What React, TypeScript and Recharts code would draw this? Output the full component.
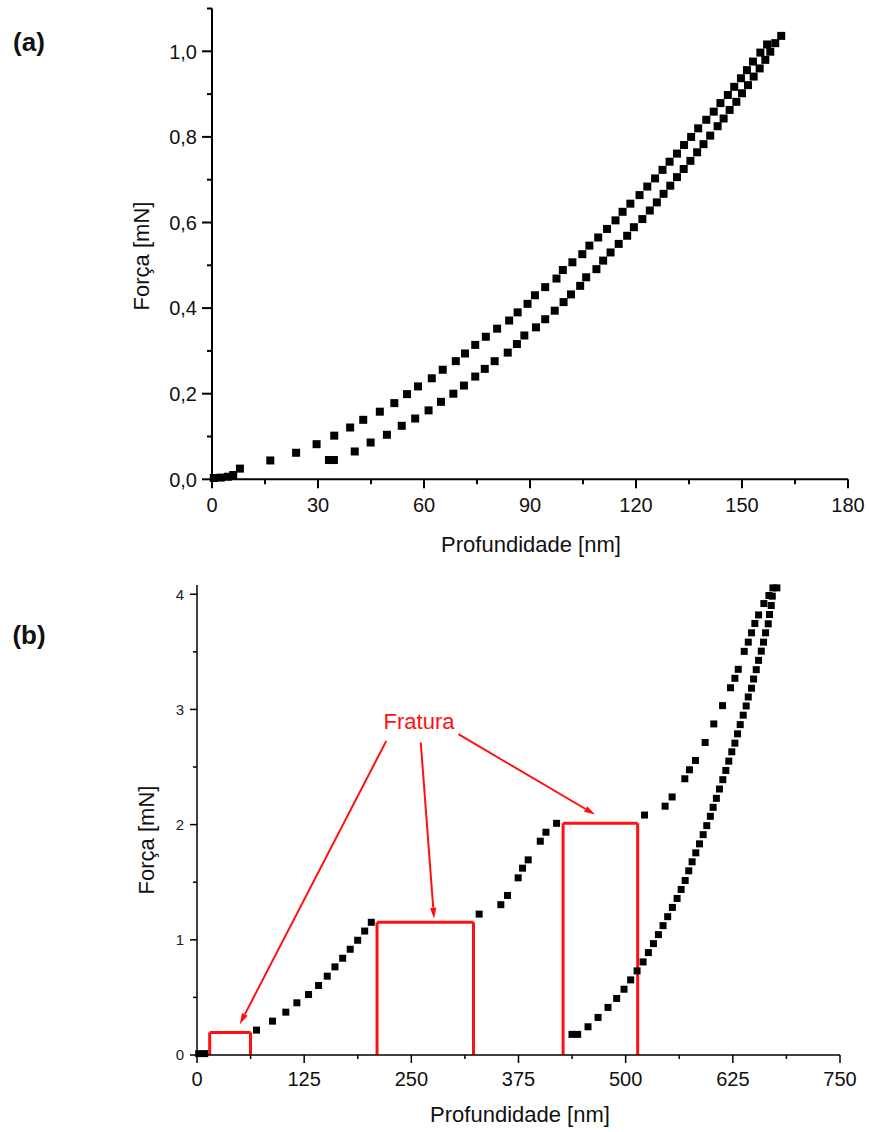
import React from "react"
import { ScatterChart, Scatter, XAxis, YAxis, ReferenceLine, ReferenceDot } from "recharts"

type Pt = [number, number]

// (a) profundidade [nm], força [mN]
const loadA: Pt[] = [
  [0.5, 0.003], [2.5, 0.004], [4.5, 0.006], [6, 0.01], [7.9, 0.025], [16.5, 0.044], [23.8, 0.062],
  [29.6, 0.082], [34.6, 0.102], [39.1, 0.121], [42.8, 0.139], [47.5, 0.158], [51.6, 0.178], [55.2, 0.199],
  [58.3, 0.217], [62.2, 0.236], [65.3, 0.256], [69.0, 0.276], [71.6, 0.294], [74.5, 0.314], [77.5, 0.333],
  [80.7, 0.352], [84.1, 0.371], [86.5, 0.39], [89.3, 0.41], [91.4, 0.43], [94.3, 0.449], [97.5, 0.469],
  [99.3, 0.489], [102.0, 0.507], [104.8, 0.526], [106.8, 0.546], [109.3, 0.565], [111.8, 0.585],
  [114.2, 0.605], [116.2, 0.625], [118.4, 0.644], [121.0, 0.664], [123.2, 0.684], [125.4, 0.703],
  [127.5, 0.723], [129.5, 0.742], [131.6, 0.761], [133.6, 0.781], [135.6, 0.8], [137.6, 0.82],
  [139.9, 0.84], [142.0, 0.859], [143.9, 0.879], [146.0, 0.898], [147.8, 0.917], [149.7, 0.937],
  [151.4, 0.956], [153.1, 0.976], [155.2, 0.997], [157.1, 1.016], [161.1, 1.036],
]

const unloadA: Pt[] = [
  [33.1, 0.045], [34.5, 0.045], [40.4, 0.065], [44.9, 0.086], [49.5, 0.104], [53.7, 0.125], [57.5, 0.142],
  [61.3, 0.161], [64.8, 0.181], [68.3, 0.2], [71.3, 0.219], [74.5, 0.24], [77.2, 0.258], [80.0, 0.276],
  [83.7, 0.296], [86.3, 0.316], [88.4, 0.336], [91.7, 0.355], [94.3, 0.374], [97.0, 0.394], [99.5, 0.414],
  [101.6, 0.432], [104.2, 0.452], [105.9, 0.472], [108.8, 0.491], [110.7, 0.511], [112.8, 0.53],
  [115.1, 0.55], [117.5, 0.569], [119.4, 0.589], [121.8, 0.608], [123.9, 0.628], [125.9, 0.647],
  [127.8, 0.667], [129.7, 0.686], [131.6, 0.706], [133.5, 0.725], [135.4, 0.744], [137.3, 0.764],
  [139.1, 0.783], [141.0, 0.803], [143.1, 0.825], [144.8, 0.843], [146.5, 0.863], [148.4, 0.882],
  [150.0, 0.902], [151.7, 0.921], [153.3, 0.941], [155.0, 0.96], [156.6, 0.98], [158.0, 0.999],
  [159.4, 1.019],
]

// (b)
const loadB: Pt[] = [
  [2, 0.012], [9, 0.012],
  [69.4, 0.216], [88.1, 0.294], [103.6, 0.372], [116.5, 0.453], [130.1, 0.525], [141.8, 0.603],
  [151.9, 0.684], [160.9, 0.765], [169.9, 0.84], [178.7, 0.918], [187.4, 0.996], [195.6, 1.076],
  [203.3, 1.152],
  [329.1, 1.223], [354.4, 1.305], [362.2, 1.385], [374.6, 1.538], [379.7, 1.622], [386.3, 1.694],
  [400.4, 1.856], [407.0, 1.934], [419.4, 2.011],
  [522.0, 2.083], [546.0, 2.16], [554.2, 2.24], [569.0, 2.398], [574.4, 2.476], [581.4, 2.557],
  [592.7, 2.713], [602.8, 2.874], [613.0, 3.033], [622.3, 3.188], [627.4, 3.27], [631.3, 3.348],
  [638.3, 3.504], [643.0, 3.584], [646.8, 3.665], [650.7, 3.746], [655.0, 3.82], [661.2, 3.919],
  [667.1, 3.989], [671.8, 4.055], [676.4, 4.055],
]

const unloadB: Pt[] = [
  [437.4, 0.179], [444.0, 0.179], [456.1, 0.245], [467.8, 0.326], [479.4, 0.413], [489.5, 0.491],
  [498.1, 0.571], [505.8, 0.652], [513.3, 0.73], [520.3, 0.808], [526.5, 0.889], [532.4, 0.967],
  [538.2, 1.045], [543.6, 1.123], [549.0, 1.201], [554.5, 1.281], [560.0, 1.359], [564.7, 1.437],
  [569.4, 1.515], [573.6, 1.599], [577.5, 1.677], [581.8, 1.755], [586.1, 1.833], [590.4, 1.913],
  [594.6, 1.991], [598.8, 2.072], [602.0, 2.15], [605.8, 2.228], [609.4, 2.309], [613.3, 2.39],
  [616.8, 2.47], [620.3, 2.551], [623.8, 2.632], [627.4, 2.707], [630.5, 2.788], [633.6, 2.868],
  [637.1, 2.95], [640.6, 3.03], [643.0, 3.108], [646.8, 3.184], [649.2, 3.264], [652.3, 3.345],
  [655.0, 3.426], [658.2, 3.506], [660.8, 3.584], [663.2, 3.665], [666.3, 3.743], [667.8, 3.824],
  [669.8, 3.902], [671.0, 3.983],
]

const ticksXA = [0, 15, 30, 45, 60, 75, 90, 105, 120, 135, 150, 165, 180]
const ticksYA = [0, 0.1, 0.2, 0.3, 0.4, 0.5, 0.6, 0.7, 0.8, 0.9, 1.0, 1.1]
const ticksXB = [0, 62.5, 125, 187.5, 250, 312.5, 375, 437.5, 500, 562.5, 625, 687.5, 750]
const ticksYB = [0, 0.5, 1, 1.5, 2, 2.5, 3, 3.5, 4]

// regiões de fratura (pop-in): início, fim, força
const fractures = [
  { from: 14.8, to: 62.4, force: 0.196 },
  { from: 210, to: 322.5, force: 1.152 },
  { from: 427, to: 514, force: 2.011 },
]

const arrows = [
  { start: [220.8, 2.727], end: [49.9, 0.268] },
  { start: [261, 2.713], end: [276.5, 1.184] },
  { start: [304.9, 2.785], end: [464.3, 2.087] },
]

const FONT = "'Liberation Sans', Arial, sans-serif"
const RED = "#ff1010"

const toRows = (pts: Pt[]) => pts.map(([d, f]) => ({ d, f }))

const square = (s: number) => (props: any) => (
  <rect x={props.cx - s / 2} y={props.cy - s / 2} width={s} height={s} fill="#000" />
)

const makeXTick = (isMajor: (v: number) => boolean, fmt: (v: number) => string, fs: number, dy: number, major: number, minor: number, sw: number) =>
  (props: any) => {
    const { x, y, payload } = props
    const m = isMajor(payload.value)
    return (
      <g>
        <line x1={x} x2={x} y1={y} y2={y + (m ? major : minor)} stroke="#000" strokeWidth={sw} />
        {m && (
          <text x={x} y={y + dy} textAnchor="middle" fontSize={fs} fontFamily={FONT} fill="#111">
            {fmt(payload.value)}
          </text>
        )}
      </g>
    )
  }

const makeYTick = (isMajor: (v: number) => boolean, fmt: (v: number) => string, fs: number, gap: number, major: number, minor: number, sw: number, color: string) =>
  (props: any) => {
    const { x, y, payload } = props
    const m = isMajor(payload.value)
    return (
      <g>
        <line x1={x} x2={x - (m ? major : minor)} y1={y} y2={y} stroke="#000" strokeWidth={sw} />
        {m && (
          <text x={x - gap} y={y} dy="0.36em" textAnchor="end" fontSize={fs} fontFamily={FONT} fill={color}>
            {fmt(payload.value)}
          </text>
        )}
      </g>
    )
  }

const arrowShape = (p: any) => {
  const { x1, y1, x2, y2 } = p
  const a = Math.atan2(y2 - y1, x2 - x1)
  const len = 11
  const w = 3.2
  const bx = x2 - len * Math.cos(a)
  const by = y2 - len * Math.sin(a)
  const px = -Math.sin(a) * w
  const py = Math.cos(a) * w
  return (
    <g>
      <line x1={x1} y1={y1} x2={bx} y2={by} stroke={RED} strokeWidth={2} />
      <polygon points={`${x2},${y2} ${bx + px},${by + py} ${bx - px},${by - py}`} fill={RED} />
    </g>
  )
}

const titleStyle: React.CSSProperties = {
  position: "absolute",
  fontFamily: FONT,
  fontSize: 22,
  color: "#111",
  whiteSpace: "nowrap",
  transform: "translate(-50%, -50%)",
}

export default function App() {
  return (
    <div style={{ position: "absolute", left: 0, top: 0, width: 869, height: 1132, background: "#fff", fontFamily: FONT }}>
      <div style={{ ...titleStyle, left: 29, top: 42, fontWeight: "bold", fontSize: 26 }}>(a)</div>
      <div style={{ ...titleStyle, left: 29, top: 635, fontWeight: "bold", fontSize: 26 }}>(b)</div>

      <div style={{ position: "absolute", left: 0, top: 0 }}>
        <ScatterChart width={869} height={560} margin={{ top: 8.5, right: 21, bottom: 40.7, left: 152 }}>
          <XAxis
            type="number"
            dataKey="d"
            domain={[0, 180]}
            ticks={ticksXA}
            interval={0}
            height={40}
            tickSize={0}
            tickMargin={0}
            tickLine={false}
            axisLine={{ stroke: "#000", strokeWidth: 2 }}
            tick={makeXTick((v) => v % 30 === 0, (v) => String(v), 20, 33, 9, 5, 2)}
          />
          <YAxis
            type="number"
            dataKey="f"
            domain={[0, 1.1]}
            ticks={ticksYA}
            interval={0}
            width={60}
            tickSize={0}
            tickMargin={0}
            tickLine={false}
            axisLine={{ stroke: "#000", strokeWidth: 2 }}
            tick={makeYTick((v) => Math.round(v * 10) % 2 === 0, (v) => v.toFixed(1).replace(".", ","), 20, 15, 10, 5, 2, "#111")}
          />
          <Scatter data={toRows(loadA)} shape={square(8)} isAnimationActive={false} />
          <Scatter data={toRows(unloadA)} shape={square(8)} isAnimationActive={false} />
        </ScatterChart>
      </div>
      <div style={{ ...titleStyle, left: 142, top: 256, transform: "translate(-50%, -50%) rotate(-90deg)" }}>Força [mN]</div>
      <div style={{ ...titleStyle, left: 531, top: 545 }}>Profundidade [nm]</div>

      <div style={{ position: "absolute", left: 0, top: 560 }}>
        <ScatterChart width={869} height={572} margin={{ top: 25, right: 29, bottom: 37, left: 147 }}>
          <XAxis
            type="number"
            dataKey="d"
            domain={[0, 750]}
            ticks={ticksXB}
            interval={0}
            height={40}
            tickSize={0}
            tickMargin={0}
            tickLine={false}
            axisLine={{ stroke: "#000", strokeWidth: 1.5 }}
            tick={makeXTick((v) => v % 125 === 0, (v) => String(v), 20, 31, 8, 4, 1.5)}
          />
          <YAxis
            type="number"
            dataKey="f"
            domain={[0, 4.08]}
            ticks={ticksYB}
            interval={0}
            width={50}
            tickSize={0}
            tickMargin={0}
            tickLine={false}
            axisLine={{ stroke: "#000", strokeWidth: 1.5 }}
            tick={makeYTick((v) => Number.isInteger(v), (v) => String(v), 15, 13, 7, 4, 1.5, "#222")}
          />
          {fractures.map((b, i) => (
            <ReferenceLine
              key={`fa-${i}`}
              ifOverflow="visible"
              segment={[{ x: b.from, y: 0 }, { x: b.from, y: b.force }]}
              stroke={RED}
              strokeWidth={3}
            />
          ))}
          {fractures.map((b, i) => (
            <ReferenceLine
              key={`fb-${i}`}
              ifOverflow="visible"
              segment={[{ x: b.from, y: b.force }, { x: b.to, y: b.force }]}
              stroke={RED}
              strokeWidth={3}
            />
          ))}
          {fractures.map((b, i) => (
            <ReferenceLine
              key={`fc-${i}`}
              ifOverflow="visible"
              segment={[{ x: b.to, y: b.force }, { x: b.to, y: 0 }]}
              stroke={RED}
              strokeWidth={3}
            />
          ))}
          {arrows.map((a, i) => (
            <ReferenceLine
              key={`ar-${i}`}
              ifOverflow="visible"
              segment={[{ x: a.start[0], y: a.start[1] }, { x: a.end[0], y: a.end[1] }]}
              shape={arrowShape}
            />
          ))}
          <ReferenceDot
            x={259}
            y={2.9}
            ifOverflow="visible"
            shape={(p: any) => (
              <text x={p.cx} y={p.cy} dy="0.36em" textAnchor="middle" fontSize={22} fontFamily={FONT} fill={RED}>
                Fratura
              </text>
            )}
          />
          <Scatter data={toRows(loadB)} shape={square(7)} isAnimationActive={false} />
          <Scatter data={toRows(unloadB)} shape={square(7)} isAnimationActive={false} />
        </ScatterChart>
      </div>
      <div style={{ ...titleStyle, left: 147, top: 840, transform: "translate(-50%, -50%) rotate(-90deg)" }}>Força [mN]</div>
      <div style={{ ...titleStyle, left: 520, top: 1115 }}>Profundidade [nm]</div>
    </div>
  )
}
